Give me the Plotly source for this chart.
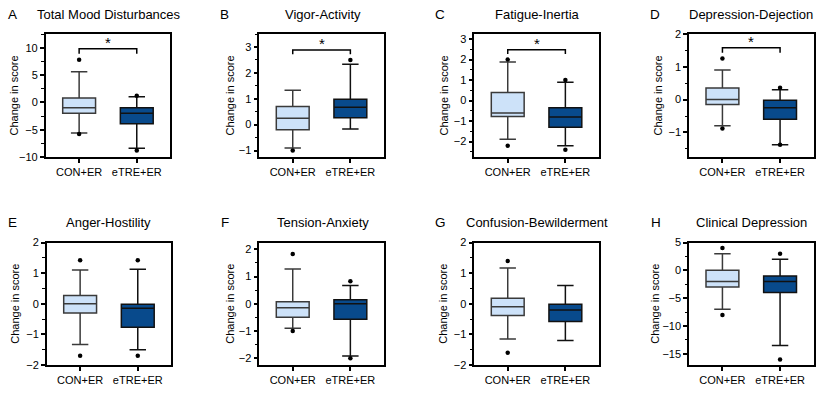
import plotly.graph_objects as go

groups = ["CON+ER", "eTRE+ER"]
panel_letters = ["A", "B", "C", "D", "E", "F", "G", "H"]
panel_titles = ["Total Mood Disturbances", "Vigor-Activity", "Fatigue-Inertia",
                "Depression-Dejection", "Anger-Hostility", "Tension-Anxiety",
                "Confusion-Bewilderment", "Clinical Depression"]

# per panel: [CON, eTRE]
q1_vals = [[-2.0, -3.9], [-0.2, 0.27], [-0.78, -1.3], [-0.15, -0.6],
           [-0.3, -0.77], [-0.5, -0.57], [-0.38, -0.58], [-3.0, -4.0]]
median_vals = [[-1.0, -2.0], [0.25, 0.67], [-0.6, -0.8], [0.0, -0.25],
               [0.0, -0.15], [-0.15, 0.0], [-0.1, -0.2], [-2.0, -2.0]]
q3_vals = [[0.8, -1.0], [0.7, 0.98], [0.4, -0.35], [0.35, -0.02],
           [0.27, -0.02], [0.07, 0.15], [0.18, -0.02], [0.0, -1.0]]
low_whisker = [[-5.6, -8.4], [-0.9, -0.17], [-1.88, -2.2], [-0.8, -1.38],
               [-1.33, -1.5], [-0.9, -1.92], [-1.15, -1.2], [-7.0, -13.5]]
high_whisker = [[5.6, 1.0], [1.33, 2.33], [1.88, 0.9], [0.9, 0.3],
                [1.1, 1.13], [1.28, 0.67], [1.17, 0.6], [3.0, 2.0]]
# outlier points per panel per group
outliers = [
    [[7.8, -5.8], [1.2, -8.8]],
    [[-1.0], [2.5]],
    [[2.0, -2.2], [1.0, -2.4]],
    [[1.25, -0.88], [0.36, -1.38]],
    [[1.42, -1.7], [1.42, -1.7]],
    [[1.83, -1.0], [0.83, -2.0]],
    [[1.4, -1.6], []],
    [[4.0, -8.0], [3.0, -16.0]],
]
# significance brackets: (tip, top) or None
sig_bracket = [(8.9, 9.8), (2.72, 2.88), (2.27, 2.48), (1.43, 1.58),
               None, None, None, None]

y_ranges = [[-10, 12.5], [-1.25, 3.5], [-2.75, 3.25], [-1.75, 2],
            [-2, 2], [-2.25, 2.25], [-2, 2], [-17, 5]]
y_dticks = [5, 1, 1, 1, 1, 1, 1, 5]

W, H = 821, 399
lefts = [45.7, 259.3, 474.3, 689, 46.7, 259.3, 474.3, 689]
pw = 124.5
rows_px = [(34, 157), (242.5, 365)]
title_x = [108.7, 322.5, 537.5, 751, 108, 323, 537, 751]
letter_x = [12, 224, 440, 655, 13, 225, 440, 656]
ytitle_x = [13, 229, 443, 657, 15, 230, 443, 655]

fill_colors = ["#cde2f9", "#084a8c"]
line_colors = ["#3a3a3a", "#111111"]
font_fam = "Liberation Sans, Arial, sans-serif"

fig = go.Figure()
annotations = []
for i in range(8):
    r = i // 4
    ax = "" if i == 0 else str(i + 1)
    xa, ya = "x" + ax, "y" + ax
    top_px, bot_px = rows_px[r]
    x0 = lefts[i] / W
    x1 = (lefts[i] + pw) / W
    y0 = 1 - bot_px / H
    y1 = 1 - top_px / H
    for g in range(2):
        fig.add_trace(go.Box(
            x=[g], q1=[q1_vals[i][g]], median=[median_vals[i][g]], q3=[q3_vals[i][g]],
            lowerfence=[low_whisker[i][g]], upperfence=[high_whisker[i][g]],
            boxpoints=False, width=0.57, whiskerwidth=0.5,
            fillcolor=fill_colors[g], line=dict(color=line_colors[g], width=1.5),
            xaxis=xa, yaxis=ya, showlegend=False, hoverinfo="skip"))
        if outliers[i][g]:
            fig.add_trace(go.Scatter(
                x=[g] * len(outliers[i][g]), y=outliers[i][g], mode="markers",
                marker=dict(color="black", size=4.5), xaxis=xa, yaxis=ya,
                showlegend=False, hoverinfo="skip"))
    if sig_bracket[i] is not None:
        tip, top = sig_bracket[i]
        fig.add_trace(go.Scatter(
            x=[0, 0, 1, 1], y=[tip, top, top, tip], mode="lines",
            line=dict(color="black", width=1.5), xaxis=xa, yaxis=ya,
            showlegend=False, hoverinfo="skip"))
        annotations.append(dict(x=0.5, y=top, xref=xa, yref=ya, text="*",
                                showarrow=False, yanchor="bottom", yshift=-4,
                                font=dict(size=15, color="black", family=font_fam)))
    fig.update_layout(**{
        ("xaxis" + ax): dict(domain=[x0, x1], range=[-0.58, 1.58], anchor=ya,
                             tickvals=[0, 1], ticktext=groups, ticks="outside",
                             ticklen=4, tickwidth=1.5, tickcolor="black",
                             showline=True, linecolor="black", linewidth=1.5,
                             mirror=True, showgrid=False, zeroline=False,
                             automargin=False,
                             tickfont=dict(size=11, color="black", family=font_fam)),
        ("yaxis" + ax): dict(domain=[y0, y1], range=y_ranges[i], anchor=xa,
                             dtick=y_dticks[i], tick0=0, ticks="outside",
                             ticklen=4, tickwidth=1.5, tickcolor="black",
                             minor=dict(dtick=y_dticks[i] / 2, ticks="outside",
                                        ticklen=2.5, tickwidth=1, tickcolor="black"),
                             showline=True, linecolor="black", linewidth=1.5,
                             mirror=True, showgrid=False, zeroline=False,
                             automargin=False,
                             tickfont=dict(size=11, color="black", family=font_fam)),
    })
    title_y = 1 - (14.5 if r == 0 else 222.5) / H
    annotations.append(dict(x=title_x[i] / W, y=title_y, xref="paper", yref="paper",
                            text=panel_titles[i], showarrow=False, xanchor="center",
                            yanchor="middle",
                            font=dict(size=13, color="black", family=font_fam)))
    annotations.append(dict(x=letter_x[i] / W, y=title_y, xref="paper", yref="paper",
                            text=panel_letters[i], showarrow=False, xanchor="center",
                            yanchor="middle",
                            font=dict(size=13.5, color="black", family=font_fam)))
    annotations.append(dict(x=ytitle_x[i] / W, y=(y0 + y1) / 2, xref="paper", yref="paper",
                            text="Change in score", showarrow=False, textangle=-90,
                            xanchor="center", yanchor="middle",
                            font=dict(size=11, color="black", family=font_fam)))

fig.update_layout(width=W, height=H, margin=dict(l=0, r=0, t=0, b=0),
                  plot_bgcolor="white", paper_bgcolor="white",
                  annotations=annotations, showlegend=False)
fig.write_html("out.html", config={"displayModeBar": False},
               post_script="document.body.style.margin='0';document.body.style.overflow='hidden';")
